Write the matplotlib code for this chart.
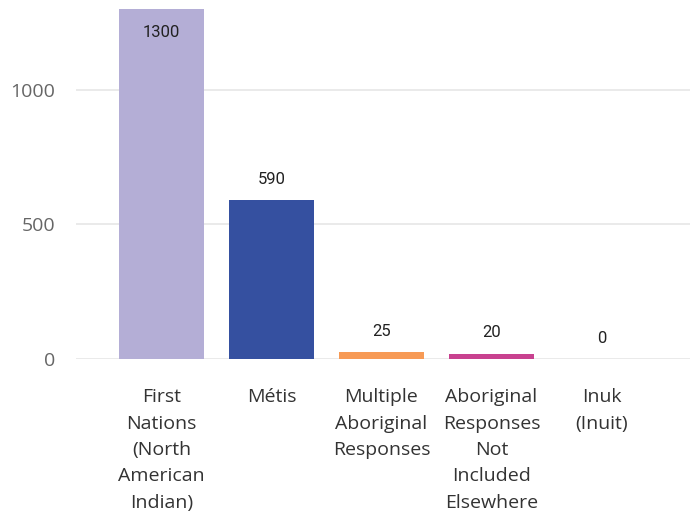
import matplotlib.pyplot as plt
import numpy as np

# data
categories = ['First\nNations\n(North\nAmerican\nIndian)', 'Métis', 'Multiple\nAboriginal\nResponses',
              'Aboriginal\nResponses\nNot\nIncluded\nElsewhere', 'Inuk\n(Inuit)']
values = [1300, 590, 25, 20, 0]
colors = ['#b4aed6', '#3550a0', '#f79a55', '#c8418f', '#8fc9a0']

# figure
fig = plt.figure(figsize=(6.9, 5.23), dpi=100)
ax = fig.add_axes([76 / 690, 1 - 359 / 523, 614 / 690, 350 / 523])
x = np.arange(len(values))
bars = ax.bar(x, values, width=0.773, color=colors, zorder=2)

ax.set_xlim(-0.777, 4.805)
ax.set_ylim(0, 1300)

ax.set_yticks([0, 500, 1000])
ax.yaxis.grid(True, color='#e6e6e6', linewidth=1.2, zorder=0)
ax.set_axisbelow(True)
for s in ax.spines.values():
    s.set_visible(False)
ax.tick_params(axis='y', length=0, pad=15, labelsize=14, labelcolor='#666666')
ax.tick_params(axis='x', length=0, pad=21)
ax.set_xticks(x)
ax.set_xticklabels(categories, fontsize=14, color='#333333', family='Open Sans', linespacing=1.6)
for t in ax.get_yticklabels():
    t.set_family('Open Sans')

# value labels
for xi, v in zip(x, values):
    if v > 1200:
        ax.annotate(str(v), (xi, v), xytext=(0, -17), textcoords='offset points',
                    ha='center', va='center', fontsize=12, color='#222222', family='Roboto')
    else:
        ax.annotate(str(v), (xi, v), xytext=(0, 15), textcoords='offset points',
                    ha='center', va='center', fontsize=12, color='#222222', family='Roboto')

fig.savefig('out.png', dpi=100)
